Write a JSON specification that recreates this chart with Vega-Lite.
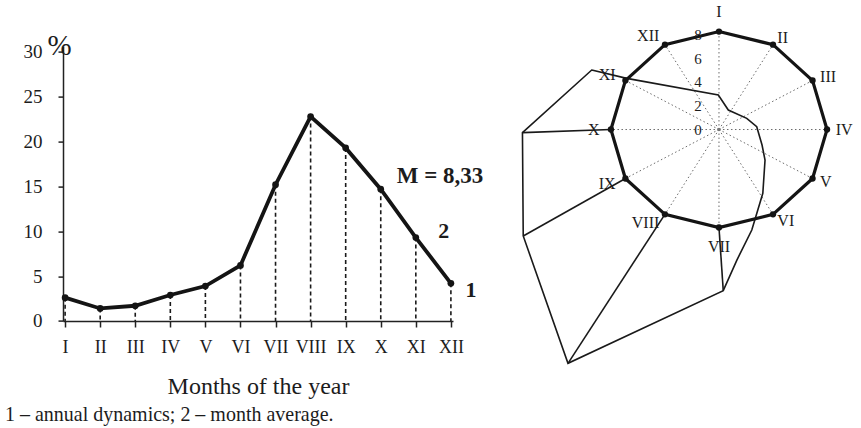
{
  "$schema": "https://vega.github.io/schema/vega-lite/v6.json",
  "autosize": {"type": "none"},
  "padding": {"left": 63, "top": 46.6, "right": 798, "bottom": 381.4},
  "background": "#ffffff",
  "bounds": "flush",
  "spacing": 57,
  "config": {
    "view": {"stroke": null},
    "font": "Liberation Serif",
    "text": {"font": "Liberation Serif", "color": "#1c1c1c"}
  },
  "datasets": {
    "months": [
      {"month": "I", "m": 1, "pct": 2.6, "avg": 8.33},
      {"month": "II", "m": 2, "pct": 1.4, "avg": 8.33},
      {"month": "III", "m": 3, "pct": 1.7, "avg": 8.33},
      {"month": "IV", "m": 4, "pct": 2.9, "avg": 8.33},
      {"month": "V", "m": 5, "pct": 3.9, "avg": 8.33},
      {"month": "VI", "m": 6, "pct": 6.2, "avg": 8.33},
      {"month": "VII", "m": 7, "pct": 15.2, "avg": 8.33},
      {"month": "VIII", "m": 8, "pct": 22.8, "avg": 8.33},
      {"month": "IX", "m": 9, "pct": 19.3, "avg": 8.33},
      {"month": "X", "m": 10, "pct": 14.7, "avg": 8.33},
      {"month": "XI", "m": 11, "pct": 9.3, "avg": 8.33},
      {"month": "XII", "m": 12, "pct": 4.2, "avg": 8.33}
    ],
    "outline": [
      {"seq": 1, "e": -9.81, "n": 5.06},
      {"seq": 2, "e": -7.11, "n": 4.35},
      {"seq": 3, "e": -0.05, "n": 2.93},
      {"seq": 4, "e": 0.72, "n": 1.66},
      {"seq": 5, "e": 2.14, "n": 0.95},
      {"seq": 6, "e": 2.91, "n": 0.24},
      {"seq": 7, "e": 3.32, "n": -1.32},
      {"seq": 8, "e": 3.55, "n": -2.59},
      {"seq": 9, "e": 3.38, "n": -5.42},
      {"seq": 10, "e": 2.53, "n": -8.55},
      {"seq": 11, "e": 1.38, "n": -11.1},
      {"seq": 12, "e": 0.33, "n": -13.7},
      {"seq": 13, "e": -11.64, "n": -19.88},
      {"seq": 14, "e": -15.09, "n": -9.05},
      {"seq": 15, "e": -15.15, "n": -0.26}
    ],
    "links": [
      {"e": -15.15, "n": -0.26, "e2": -8.33, "n2": 0},
      {"e": -15.09, "n": -9.05, "e2": -7.21, "n2": -4.17},
      {"e": -11.64, "n": -19.88, "e2": -4.17, "n2": -7.21},
      {"e": 0.33, "n": -13.7, "e2": 0, "n2": -8.33}
    ],
    "rings": [{"v": 0}, {"v": 2}, {"v": 4}, {"v": 6}, {"v": 8}]
  },
  "hconcat": [
    {
      "width": 390,
      "height": 274.4,
      "title": {
        "text": "1 – annual dynamics;  2 – month average.",
        "orient": "bottom",
        "anchor": "start",
        "frame": "group",
        "dx": -58,
        "offset": 6,
        "fontSize": 20,
        "fontWeight": "normal",
        "font": "Liberation Serif",
        "color": "#1c1c1c"
      },
      "layer": [
        {
          "data": {"name": "months"},
          "mark": {"type": "rule", "strokeDash": [4, 3], "strokeWidth": 1.6, "color": "#1a1a1a"},
          "encoding": {
            "x": {
              "field": "month",
              "type": "ordinal",
              "sort": null,
              "scale": {"type": "point", "padding": 0.06},
              "axis": {
                "title": "Months of the year",
                "titleFontSize": 24,
                "titleFontWeight": "normal",
                "titleFont": "Liberation Serif",
                "titleColor": "#1c1c1c",
                "titlePadding": 18,
                "labelFont": "Liberation Serif",
                "labelFontSize": 18,
                "labelColor": "#1c1c1c",
                "labelAngle": 0,
                "labelPadding": 12,
                "tickSize": 6,
                "tickWidth": 1.5,
                "tickColor": "#222",
                "domainColor": "#222",
                "domainWidth": 1.5,
                "grid": false
              }
            },
            "y": {
              "field": "pct",
              "type": "quantitative",
              "scale": {"domain": [0, 30.6], "nice": false, "zero": true},
              "axis": {
                "values": [0, 5, 10, 15, 20, 25, 30],
                "title": "%",
                "titleAngle": 0,
                "titleFont": "Liberation Serif",
                "titleFontSize": 29,
                "titleFontWeight": "normal",
                "titleColor": "#1c1c1c",
                "titleAlign": "left",
                "titleBaseline": "alphabetic",
                "titleX": -16,
                "titleY": 8.4,
                "labelFont": "Liberation Serif",
                "labelFontSize": 19,
                "labelColor": "#1c1c1c",
                "labelPadding": 16,
                "tickSize": 5,
                "tickWidth": 1.5,
                "tickColor": "#222",
                "domainColor": "#222",
                "domainWidth": 1.5,
                "grid": false
              }
            },
            "y2": {"datum": 0}
          }
        },
        {
          "data": {"name": "months"},
          "mark": {
            "type": "line",
            "color": "#141414",
            "strokeWidth": 3.8,
            "point": {"filled": true, "size": 45, "color": "#141414"}
          },
          "encoding": {
            "x": {"field": "month", "type": "ordinal", "sort": null},
            "y": {"field": "pct", "type": "quantitative"}
          }
        },
        {
          "data": {"values": [{"t": "M = 8,33", "mon": "X", "val": 16.2}]},
          "mark": {"type": "text", "align": "left", "baseline": "middle", "fontSize": 23, "fontWeight": "bold", "dx": 16},
          "encoding": {
            "x": {"field": "mon", "type": "ordinal", "sort": null},
            "y": {"field": "val", "type": "quantitative"},
            "text": {"field": "t", "type": "nominal"}
          }
        },
        {
          "data": {"values": [{"t": "2", "mon": "XI", "val": 10}]},
          "mark": {"type": "text", "align": "center", "baseline": "middle", "fontSize": 22, "fontWeight": "bold", "dx": 28},
          "encoding": {
            "x": {"field": "mon", "type": "ordinal", "sort": null},
            "y": {"field": "val", "type": "quantitative"},
            "text": {"field": "t", "type": "nominal"}
          }
        },
        {
          "data": {"values": [{"t": "1", "mon": "XII", "val": 3.5}]},
          "mark": {"type": "text", "align": "center", "baseline": "middle", "fontSize": 22, "fontWeight": "bold", "dx": 20},
          "encoding": {
            "x": {"field": "mon", "type": "ordinal", "sort": null},
            "y": {"field": "val", "type": "quantitative"},
            "text": {"field": "t", "type": "nominal"}
          }
        }
      ]
    },
    {
      "width": 340,
      "height": 274.4,
      "layer": [
        {
          "data": {"name": "months"},
          "transform": [
            {"calculate": "(datum.m - 1) * PI / 6", "as": "ang"},
            {"calculate": "datum.avg * sin(datum.ang)", "as": "ex"},
            {"calculate": "datum.avg * cos(datum.ang)", "as": "ny"},
            {"calculate": "0", "as": "c0"}
          ],
          "mark": {"type": "rule", "strokeDash": [1.5, 2.5], "strokeWidth": 1, "color": "#6a6a6a"},
          "encoding": {
            "x": {"field": "c0", "type": "quantitative", "scale": {"domain": [-16.11, 10.10], "nice": false, "zero": false}, "axis": null},
            "y": {"field": "c0", "type": "quantitative", "scale": {"domain": [-16.28, 7.05], "nice": false, "zero": false}, "axis": null},
            "x2": {"field": "ex"},
            "y2": {"field": "ny"}
          }
        },
        {
          "data": {"name": "outline"},
          "mark": {"type": "line", "interpolate": "linear-closed", "strokeWidth": 1.6, "color": "#1a1a1a"},
          "encoding": {
            "x": {"field": "e", "type": "quantitative"},
            "y": {"field": "n", "type": "quantitative"},
            "order": {"field": "seq", "type": "quantitative"}
          }
        },
        {
          "data": {"name": "links"},
          "mark": {"type": "rule", "strokeWidth": 1.6, "color": "#1a1a1a"},
          "encoding": {
            "x": {"field": "e", "type": "quantitative"},
            "y": {"field": "n", "type": "quantitative"},
            "x2": {"field": "e2"},
            "y2": {"field": "n2"}
          }
        },
        {
          "data": {"name": "months"},
          "transform": [
            {"calculate": "(datum.m - 1) * PI / 6", "as": "ang"},
            {"calculate": "datum.avg * sin(datum.ang)", "as": "ex"},
            {"calculate": "datum.avg * cos(datum.ang)", "as": "ny"}
          ],
          "mark": {"type": "line", "interpolate": "linear-closed", "strokeWidth": 3.2, "color": "#141414"},
          "encoding": {
            "x": {"field": "ex", "type": "quantitative"},
            "y": {"field": "ny", "type": "quantitative"},
            "order": {"field": "m", "type": "quantitative"}
          }
        },
        {
          "data": {"name": "months"},
          "transform": [
            {"calculate": "(datum.m - 1) * PI / 6", "as": "ang"},
            {"calculate": "datum.avg * sin(datum.ang)", "as": "ex"},
            {"calculate": "datum.avg * cos(datum.ang)", "as": "ny"}
          ],
          "mark": {"type": "point", "filled": true, "size": 40, "color": "#141414", "opacity": 1},
          "encoding": {
            "x": {"field": "ex", "type": "quantitative"},
            "y": {"field": "ny", "type": "quantitative"}
          }
        },
        {
          "data": {"name": "months"},
          "transform": [
            {"filter": "datum.m >= 2 && datum.m <= 6"},
            {"calculate": "(datum.m - 1) * PI / 6", "as": "ang"},
            {"calculate": "9 * sin(datum.ang)", "as": "lx"},
            {"calculate": "9 * cos(datum.ang)", "as": "ly"}
          ],
          "mark": {"type": "text", "align": "left", "baseline": "middle", "fontSize": 16},
          "encoding": {
            "x": {"field": "lx", "type": "quantitative"},
            "y": {"field": "ly", "type": "quantitative"},
            "text": {"field": "month", "type": "nominal"}
          }
        },
        {
          "data": {"name": "months"},
          "transform": [
            {"filter": "datum.m >= 8"},
            {"calculate": "(datum.m - 1) * PI / 6", "as": "ang"},
            {"calculate": "9.2 * sin(datum.ang)", "as": "lx"},
            {"calculate": "9.2 * cos(datum.ang)", "as": "ly"}
          ],
          "mark": {"type": "text", "align": "right", "baseline": "middle", "fontSize": 16},
          "encoding": {
            "x": {"field": "lx", "type": "quantitative"},
            "y": {"field": "ly", "type": "quantitative"},
            "text": {"field": "month", "type": "nominal"}
          }
        },
        {
          "data": {"name": "months"},
          "transform": [
            {"filter": "datum.m == 1 || datum.m == 7"},
            {"calculate": "(datum.m - 1) * PI / 6", "as": "ang"},
            {"calculate": "10 * sin(datum.ang)", "as": "lx"},
            {"calculate": "10 * cos(datum.ang)", "as": "ly"}
          ],
          "mark": {"type": "text", "align": "center", "baseline": "middle", "fontSize": 16},
          "encoding": {
            "x": {"field": "lx", "type": "quantitative"},
            "y": {"field": "ly", "type": "quantitative"},
            "text": {"field": "month", "type": "nominal"}
          }
        },
        {
          "data": {"name": "rings"},
          "transform": [{"calculate": "0", "as": "c0"}],
          "mark": {"type": "text", "align": "center", "baseline": "middle", "fontSize": 15, "dx": -21},
          "encoding": {
            "x": {"field": "c0", "type": "quantitative"},
            "y": {"field": "v", "type": "quantitative"},
            "text": {"field": "v", "type": "quantitative"}
          }
        },
        {
          "data": {"values": [{"c0": 0}]},
          "mark": {"type": "point", "filled": true, "size": 12, "color": "#777", "opacity": 1},
          "encoding": {
            "x": {"field": "c0", "type": "quantitative"},
            "y": {"field": "c0", "type": "quantitative"}
          }
        }
      ]
    }
  ]
}
